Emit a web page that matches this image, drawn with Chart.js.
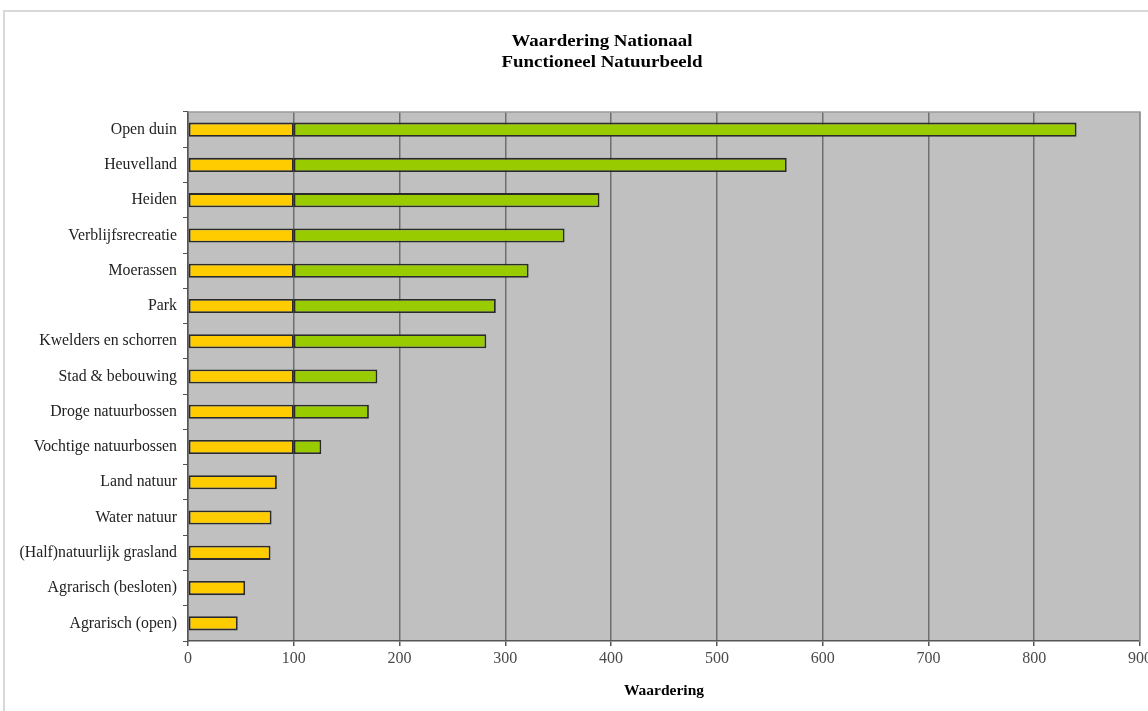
<!DOCTYPE html>
<html>
<head>
<meta charset="utf-8">
<script src="https://cdn.jsdelivr.net/npm/chart.js@4.4.1/dist/chart.umd.min.js"></script>
<style>
  html,body{margin:0;padding:0;background:#fff;}
  #wrap{position:relative;width:1148px;height:711px;overflow:hidden;}
  #frame{position:absolute;left:3px;top:10px;width:1300px;height:800px;border-top:2px solid #d9d9d9;border-left:2px solid #d9d9d9;box-sizing:border-box;}
  canvas{position:absolute;left:0;top:0;}
</style>
</head>
<body>
<div id="wrap">
  <div id="frame"></div>
  <canvas id="chart" width="1148" height="711"></canvas>
</div>
<script>
// data
const categories = [
  "Open duin","Heuvelland","Heiden","Verblijfsrecreatie","Moerassen","Park",
  "Kwelders en schorren","Stad & bebouwing","Droge natuurbossen","Vochtige natuurbossen",
  "Land natuur","Water natuur","(Half)natuurlijk grasland","Agrarisch (besloten)","Agrarisch (open)"
];
const yellowPart = [100,100,100,100,100,100,100,100,100,100,84,79,78,54,47];
const greenPart  = [740,466,289,256,222,191,182,79,71,26,0,0,0,0,0];
const titleLines = ["Waardering Nationaal","Functioneel Natuurbeeld"];
const axisTitle = "Waardering";

const SERIF = "'Liberation Serif','Times New Roman',serif";

// grey plot background + light frame on top/right
const plotBg = {
  id:"plotBg",
  beforeDraw(chart){
    const {ctx, chartArea:a} = chart;
    ctx.save();
    ctx.fillStyle="#c0c0c0";
    ctx.fillRect(a.left,a.top,a.right-a.left,a.bottom-a.top);
    ctx.restore();
  },
  afterDatasetsDraw(chart){
    const {ctx, chartArea:a} = chart;
    ctx.save();
    ctx.strokeStyle="#9a9a9a"; ctx.lineWidth=1.5;
    ctx.beginPath();
    ctx.moveTo(a.left,a.top); ctx.lineTo(a.right,a.top); ctx.lineTo(a.right,a.bottom);
    ctx.stroke();
    ctx.restore();
  }
};

// two-line title, centred on the original (cropped) chart width, a bit stretched like the source
const header = {
  id:"header",
  afterDraw(chart){
    const ctx=chart.ctx;
    ctx.save();
    ctx.font="bold 16px "+SERIF;
    ctx.fillStyle="#000";
    ctx.textAlign="center"; ctx.textBaseline="middle";
    ctx.translate(602,0); ctx.scale(1.18,1);
    titleLines.forEach((t,i)=>ctx.fillText(t,0,42+i*21));
    ctx.restore();
  }
};

new Chart(document.getElementById("chart").getContext("2d"),{
  type:"bar",
  data:{
    labels:categories,
    datasets:[
      {label:"basis",data:yellowPart,backgroundColor:"#ffcc00",borderColor:"#2a2a2a",borderWidth:1.8,borderSkipped:false},
      {label:"extra",data:greenPart,backgroundColor:"#99cc00",borderColor:"#2a2a2a",borderWidth:1.8,borderSkipped:false}
    ]
  },
  options:{
    indexAxis:"y",
    responsive:false,
    animation:false,
    barPercentage:0.4,
    categoryPercentage:1,
    layout:{padding:{top:112,left:0,right:8,bottom:0}},
    plugins:{legend:{display:false},tooltip:{enabled:false},title:{display:false}},
    scales:{
      x:{
        stacked:true,min:0,max:900,
        ticks:{stepSize:100,color:"#4a4a4a",font:{family:SERIF,size:16},padding:3},
        grid:{color:"#6e6e6e",lineWidth:1.5,tickLength:5,tickColor:"#555"},
        border:{color:"#555",width:1.5},
        title:{display:true,text:axisTitle,color:"#000",font:{family:SERIF,size:15.5,weight:"bold"},padding:{top:0,bottom:11}},
        afterFit(s){ s.height=70; s.paddingLeft=0; s.paddingRight=0; }
      },
      y:{
        stacked:true,
        ticks:{color:"#222",font:{family:SERIF,size:15.8},padding:6},
        grid:{drawOnChartArea:false,tickLength:5,color:"#555"},
        border:{color:"#555",width:1.5},
        afterFit(s){ s.width=188; }
      }
    }
  },
  plugins:[plotBg,header]
});
</script>
</body>
</html>
